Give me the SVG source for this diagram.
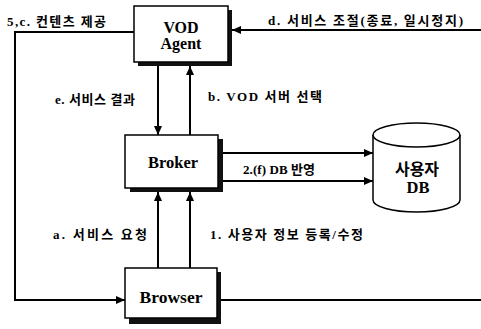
<svg xmlns="http://www.w3.org/2000/svg" width="481" height="329" viewBox="0 0 481 329">
  <style>
    .box { fill: #fff; stroke: #000; stroke-width: 1.5; }
    .shadow { fill: #111; }
    .wire { fill: none; stroke: #000; stroke-width: 2; }
    .title { font-family: "Liberation Serif", "Noto Sans CJK KR", serif; font-weight: bold; fill: #000; text-anchor: middle; }
    .lbl { font-family: "Liberation Serif", "Noto Sans CJK KR", serif; font-weight: bold; font-size: 13px; fill: #000; }
  </style>
  <defs>
    <marker id="arrow" markerUnits="userSpaceOnUse" markerWidth="9" markerHeight="8" refX="9" refY="4" orient="auto">
      <path d="M0,0 L9,4 L0,8 z" fill="#000"/>
    </marker>
  </defs>
  <rect width="481" height="329" fill="#fff"/>

  <!-- connectors -->
  <g id="connectors">
    <!-- 5,c: agent -> browser (around the left side) -->
    <polyline class="wire" points="134,32 15,32 15,300 125,300" marker-end="url(#arrow)"/>
    <!-- d: control from the right edge into the agent -->
    <line class="wire" x1="481" y1="30" x2="232" y2="30" marker-end="url(#arrow)"/>
    <!-- e: agent -> broker -->
    <line class="wire" x1="158" y1="66" x2="158" y2="135" marker-end="url(#arrow)"/>
    <!-- b: broker -> agent -->
    <line class="wire" x1="190" y1="135" x2="190" y2="66" marker-end="url(#arrow)"/>
    <!-- a: browser -> broker -->
    <line class="wire" x1="158" y1="268" x2="158" y2="192" marker-end="url(#arrow)"/>
    <!-- 1: browser -> broker -->
    <line class="wire" x1="190" y1="268" x2="190" y2="192" marker-end="url(#arrow)"/>
    <!-- 2,(f): broker -> user DB -->
    <line class="wire" x1="223" y1="153" x2="373" y2="153" marker-end="url(#arrow)"/>
    <line class="wire" x1="223" y1="181" x2="373" y2="181" marker-end="url(#arrow)"/>
    <!-- browser outgoing line to the right edge -->
    <line class="wire" x1="221" y1="300" x2="481" y2="300"/>
  </g>

  <!-- connector labels -->
  <g id="labels">
    <text class="lbl" x="7" y="26" textLength="99" lengthAdjust="spacing">5,c. 컨텐츠 제공</text>
    <text class="lbl" x="268" y="25" textLength="195" lengthAdjust="spacing">d. 서비스 조절(종료, 일시정지)</text>
    <text class="lbl" x="55" y="104" textLength="80" lengthAdjust="spacing">e. 서비스 결과</text>
    <text class="lbl" x="208" y="101" textLength="114" lengthAdjust="spacing">b. VOD 서버 선택</text>
    <text class="lbl" x="243" y="174" textLength="72" lengthAdjust="spacing">2.(f) DB 반영</text>
    <text class="lbl" x="53" y="239" textLength="94" lengthAdjust="spacing">a. 서비스 요청</text>
    <text class="lbl" x="210" y="239" textLength="153" lengthAdjust="spacing">1. 사용자 정보 등록/수정</text>
  </g>

  <!-- VOD Agent -->
  <g id="vod-agent">
    <rect class="shadow" x="138" y="10" width="94" height="56"/>
    <rect class="box" x="134" y="6" width="94" height="56"/>
    <text class="title" x="181" y="33" font-size="16">VOD</text>
    <text class="title" x="181" y="49" font-size="16">Agent</text>
  </g>

  <!-- Broker -->
  <g id="broker">
    <rect class="shadow" x="130" y="139" width="93" height="53"/>
    <rect class="box" x="125" y="135" width="93" height="53"/>
    <text class="title" x="173" y="168" font-size="16.5">Broker</text>
  </g>

  <!-- Browser -->
  <g id="browser">
    <rect class="shadow" x="129" y="272" width="92" height="52"/>
    <rect class="box" x="125" y="268" width="92" height="50"/>
    <text class="title" x="171" y="303" font-size="17.5">Browser</text>
  </g>

  <!-- User DB cylinder -->
  <g id="user-db">
    <path class="box" d="M373,135 L373,200 A43.5,12 0 0 0 460,200 L460,135"/>
    <ellipse class="box" cx="416.5" cy="135" rx="43.5" ry="12"/>
    <text class="title" x="417" y="175" font-size="16" font-family="Noto Sans CJK KR, sans-serif">사용자</text>
    <text class="title" x="418" y="193" font-size="16.5">DB</text>
  </g>
</svg>
